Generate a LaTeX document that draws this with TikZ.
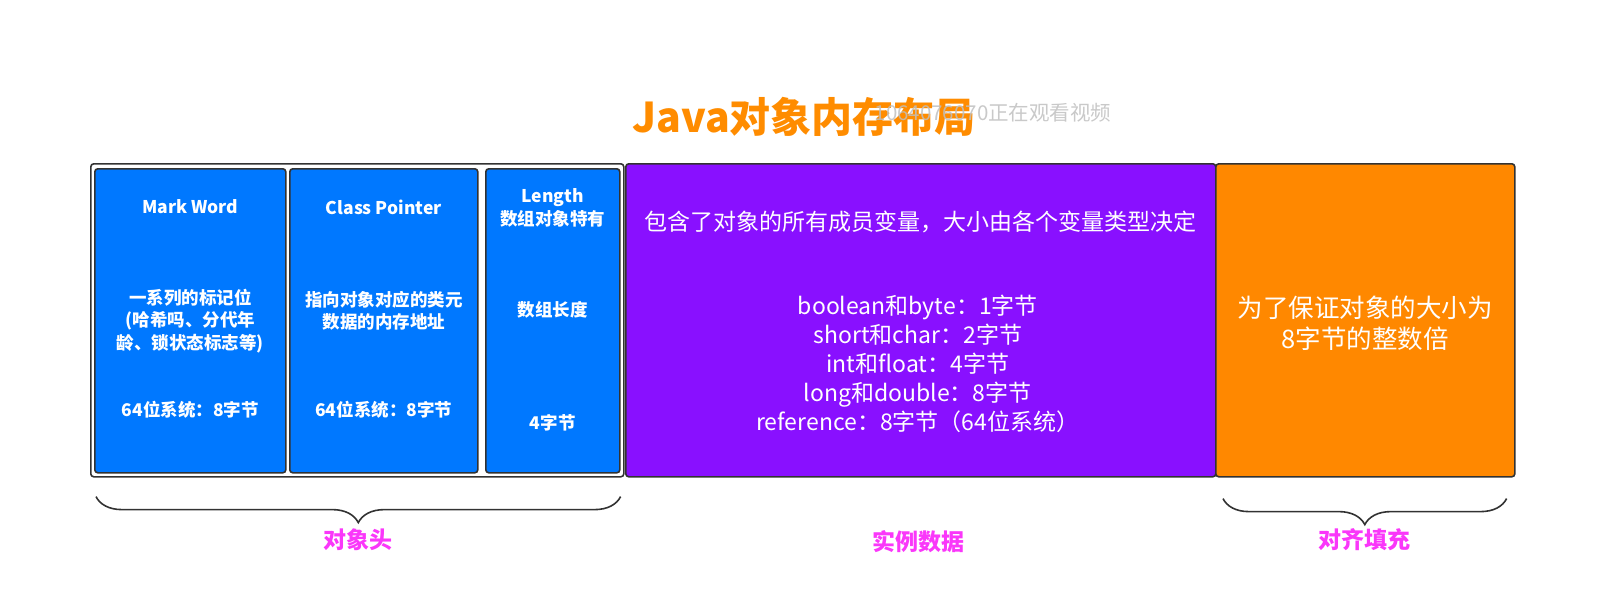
\documentclass[tikz,border=0pt]{standalone}
\usepackage{fontspec}
\setmainfont{Noto Sans CJK SC}
\usetikzlibrary{positioning, calc, decorations.pathreplacing}

\definecolor{hdrblue}{RGB}{0,120,255}
\definecolor{instpurple}{RGB}{137,16,255}
\definecolor{padorange}{RGB}{255,136,0}
\definecolor{titleorange}{RGB}{255,140,0}
\definecolor{lblmagenta}{RGB}{250,55,250}
\definecolor{edge}{RGB}{50,50,50}

\begin{document}
\begin{tikzpicture}[
    x=1pt, y=-1pt,
    seg/.style={
        draw=edge, line width=1.6pt, rounded corners=3pt,
        inner sep=0pt, anchor=north west
    },
    hdr/.style={seg, fill=hdrblue, minimum height=304pt},
    btxt/.style={text=white, align=center, font=\fontsize{17.5}{22.5}\selectfont\bfseries},
    itxt/.style={text=white, align=center, font=\fontsize{23}{29}\selectfont},
    ptxt/.style={text=white, align=center, font=\fontsize{25.5}{31}\selectfont},
    brc/.style={decorate, decoration={brace, amplitude=26pt}, draw=edge, line width=1.6pt},
    lbl/.style={text=lblmagenta, font=\fontsize{23}{28}\selectfont\bfseries}
]
\useasboundingbox (0,0) rectangle (1617,614);

% --- title ---
\node[text=titleorange, font=\fontsize{41}{48}\selectfont\bfseries] (title) at (804,117) {Java对象内存布局};
\node[text=black!25, text opacity=0.85, font=\fontsize{20.5}{24}\selectfont] (wm) at (993,113) {1064076070正在观看视频};

% --- object header frame ---
\node[seg, fill=white, minimum width=533pt, minimum height=313pt] (hdrframe) at (90,163) {};

% --- Mark Word ---
\node[hdr, minimum width=191pt] (mw) at (94,168) {};
\node[btxt] (mwname) at ($(mw.north)+(0,39)$) {Mark Word};
\node[btxt] (mwdesc) at (mw.center) {一系列的标记位\\(哈希吗、分代年\\龄、锁状态标志等)};
\node[btxt] (mwsize) at ($(mw.north)+(0,242)$) {64位系统：8字节};

% --- Class Pointer ---
\node[hdr, minimum width=188pt] (cp) at (289,168) {};
\node[btxt] (cpname) at ($(cp.north)+(0,39)$) {Class Pointer};
\node[btxt] (cpdesc) at ($(cp.center)+(0,-10)$) {指向对象对应的类元\\数据的内存地址};
\node[btxt] (cpsize) at ($(cp.north)+(0,242)$) {64位系统：8字节};

% --- Length (arrays only) ---
\node[hdr, minimum width=134pt] (len) at (485,168) {};
\node[btxt] (lenname) at ($(len.north)+(0,40)$) {Length\\数组对象特有};
\node[btxt] (lendesc) at ($(len.center)+(0,-11)$) {数组长度};
\node[btxt] (lensize) at ($(len.north)+(0,255)$) {4字节};

% --- instance data ---
\node[seg, fill=instpurple, minimum width=590pt, minimum height=313pt] (inst) at (625,163) {};
\node[itxt] (insttop) at ($(inst.north)+(0,59)$) {包含了对象的所有成员变量，大小由各个变量类型决定};
\node[itxt] (insttypes) at ($(inst.north)+(-3,201)$) {
    boolean和byte：1字节\\
    short和char：2字节\\
    int和float：4字节\\
    long和double：8字节\\
    reference：8字节（64位系统）
};

% --- padding ---
\node[seg, fill=padorange, minimum width=299pt, minimum height=313pt] (pad) at (1215,163) {};
\node[ptxt] (paddesc) at ($(pad.center)+(0,3)$) {为了保证对象的大小为\\8字节的整数倍};

% --- braces and labels ---
\draw[brc] ($(len.south east)+(0,23)$) -- ($(mw.south west)+(2,23)$)
    node[lbl, midway, below=28pt] (hdrlbl) {对象头};
\node[lbl] (instlbl) at ($(inst.south)+(-2,64)$) {实例数据};
\draw[brc] ($(pad.south east)+(-9,21)$) -- ($(pad.south west)+(8,21)$)
    node[lbl, midway, below=26pt] (padlbl) {对齐填充};

\end{tikzpicture}
\end{document}
